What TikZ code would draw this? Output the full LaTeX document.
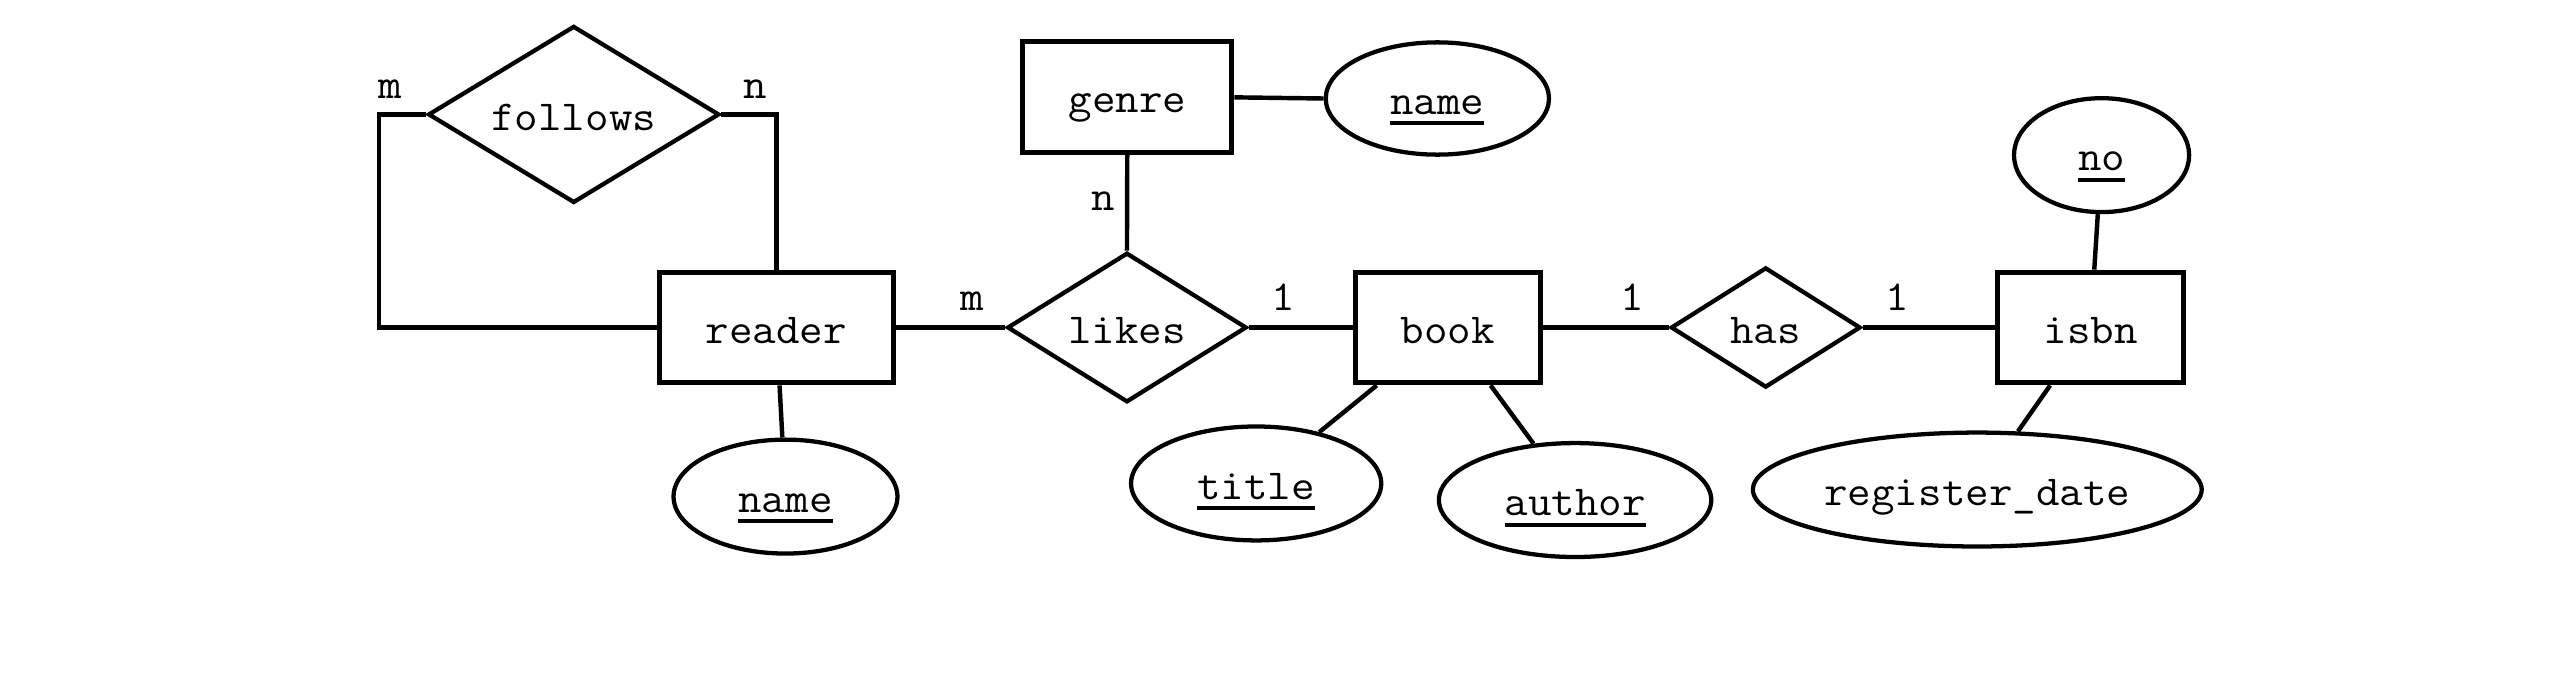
\documentclass[tikz,border=0pt]{standalone}
\usepackage{fontspec}
\usepackage{graphicx}
\usetikzlibrary{shapes.geometric}
\newsavebox\ukeybox
\newcommand\et[1]{\scalebox{1.07}[1]{#1}}
\newcommand\ukey[1]{\sbox\ukeybox{#1}\rlap{\rule[-6.8pt]{\wd\ukeybox}{2.6pt}}\usebox\ukeybox}
\begin{document}
\begin{tikzpicture}[x=1pt, y=-1pt,
  every node/.style={font={\ttfamily\fontsize{26pt}{30pt}\selectfont}},
  entity/.style={draw, rectangle, line width=3pt, fill=white, minimum height=67.5pt, inner sep=0pt, text height=19pt, text depth=0pt},
  relation/.style={draw, diamond, line width=2.6pt, fill=white, aspect=1.6, inner sep=0pt, text height=19pt, text depth=0pt},
  attr/.style={draw, ellipse, line width=2.6pt, fill=white, minimum height=69.4pt, inner sep=0pt, text height=19pt, text depth=0pt},
  card/.style={anchor=base, inner sep=0pt},
  link/.style={line width=2.7pt}]
\useasboundingbox (0,0) rectangle (1568,424);
% entities
\node[entity, minimum width=143pt]   (reader) at (473,199.5) {\et{reader}};
\node[entity, minimum width=127.4pt] (genre)  at (686.7,59.3) {\et{genre}};
\node[entity, minimum width=113pt]   (book)   at (882,199.5) {\et{book}};
\node[entity, minimum width=113pt]   (isbn)   at (1273.5,199.5) {\et{isbn}};
% relationships
\node[relation, minimum width=177.4pt, minimum height=107.8pt] (follows) at (349.5,69.7) {\et{follows}};
\node[relation, minimum width=145.9pt, minimum height=91.1pt]  (likes)   at (686.5,199.5) {\et{likes}};
\node[relation, minimum width=115.6pt, minimum height=73.2pt]  (has)     at (1075.6,199.5) {\et{has}};
% attributes
\node[attr, minimum width=136.4pt] (rname)   at (478.5,302.5) {\et{\ukey{name}}};
\node[attr, minimum width=136pt, minimum height=68.4pt] (gname) at (875.6,60) {\et{\ukey{name}}};
\node[attr, minimum width=152.4pt] (title)   at (765.2,294.5) {\et{\ukey{title}}};
\node[attr, minimum width=165.9pt] (author)  at (959.5,304.6) {\et{\ukey{author}}};
\node[attr, minimum width=106.7pt] (no)      at (1280.2,94.5) {\et{\ukey{no}}};
\node[attr, minimum width=273.4pt] (regdate) at (1204.5,298.2) {\et{register\_date}};
% connectors
\draw[link] (follows.west) -- ++(-28.5,0) |- (reader.west);
\draw[link] (follows.east) -| (reader.north);
\draw[link] (reader.east) -- (likes.west);
\draw[link] (likes.east) -- (book.west);
\draw[link] (book.east) -- (has.west);
\draw[link] (has.east) -- (isbn.west);
\draw[link] (genre.south) -- (likes.north);
\draw[link] (genre.east) -- (gname.west);
\draw[link] (reader) -- (rname);
\draw[link] (book) -- (title);
\draw[link] (book) -- (author);
\draw[link] (isbn) -- (no);
\draw[link] (isbn) -- (regdate);
% cardinalities
\node[card] (cfm) at (237.5,60) {\et{m}};
\node[card] (cfn) at (460,60) {\et{n}};
\node[card] (clm) at (592.5,189) {\et{m}};
\node[card] (cgn) at (672,128.5) {\et{n}};
\node[card] (clb) at (781.8,189.4) {\et{1}};
\node[card] (cbh) at (994.5,189) {\et{1}};
\node[card] (chi) at (1156,189) {\et{1}};
\end{tikzpicture}
\end{document}
